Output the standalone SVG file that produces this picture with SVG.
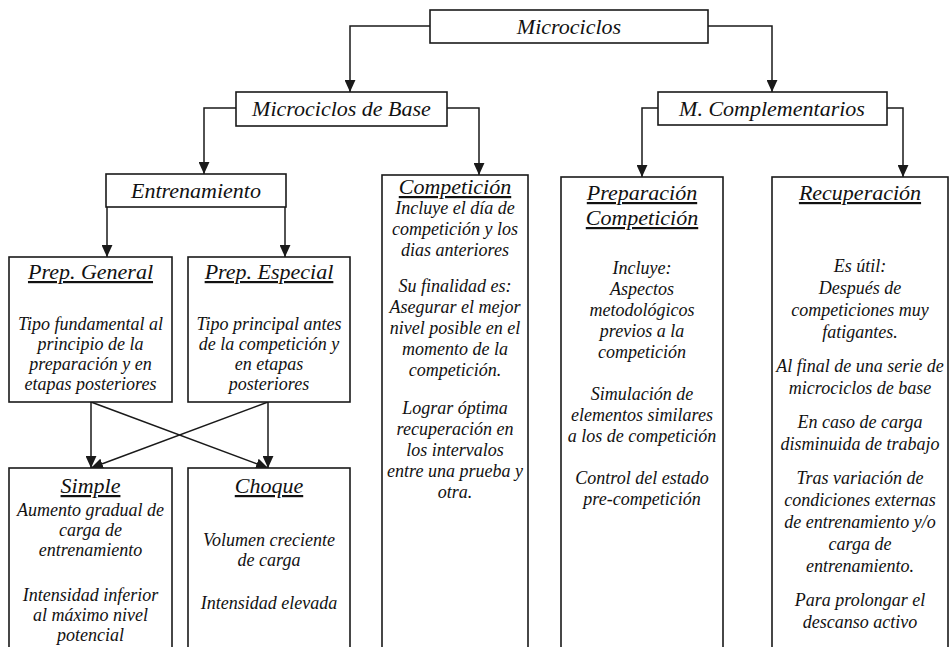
<svg xmlns="http://www.w3.org/2000/svg" width="952" height="647" viewBox="0 0 952 647">
<defs>
<marker id="arr" markerUnits="userSpaceOnUse" markerWidth="12" markerHeight="11" refX="11" refY="5" orient="auto" viewBox="0 0 11 10"><path d="M0,0 L11,5 L0,10 z" fill="#1a1a1a"/></marker>
</defs>
<style>
.box{fill:#fff;stroke:#1a1a1a;stroke-width:1.6}
text{font-family:"Liberation Serif","Times New Roman",serif;font-style:italic;fill:#111;text-anchor:middle}
.hd{font-size:22px}
.tt{font-size:22px;text-decoration:underline}
.bd{font-size:18px}
.cn{fill:none;stroke:#1a1a1a;stroke-width:1.5;marker-end:url(#arr)}
</style>
<rect x="0" y="0" width="952" height="647" fill="#fff"/>
<g id="connectors">
<polyline class="cn" points="430,26 350,26 350,92"/>
<polyline class="cn" points="708,26 772,26 772,92"/>
<polyline class="cn" points="236,108 204,108 204,174"/>
<polyline class="cn" points="447,108 479,108 479,175"/>
<polyline class="cn" points="658,108 642,108 642,177"/>
<polyline class="cn" points="887,108 903,108 903,177"/>
<polyline class="cn" points="107,207 107,257"/>
<polyline class="cn" points="285,207 285,257"/>
<polyline class="cn" points="91,402 91,468"/>
<polyline class="cn" points="268,402 268,468"/>
<polyline class="cn" points="91,402 268,468"/>
<polyline class="cn" points="268,402 91,468"/>
</g>
<g id="microciclos">
<rect class="box" x="430" y="10" width="278" height="33"/>
<text class="hd" x="569" y="34">Microciclos</text>
</g>
<g id="base">
<rect class="box" x="236" y="92" width="211" height="34"/>
<text class="hd" x="341.5" y="116">Microciclos de Base</text>
</g>
<g id="complementarios">
<rect class="box" x="658" y="92" width="229" height="33"/>
<text class="hd" x="772" y="116">M. Complementarios</text>
</g>
<g id="entrenamiento">
<rect class="box" x="106" y="174" width="180" height="33"/>
<text class="hd" x="196" y="198">Entrenamiento</text>
</g>
<g id="prep-general">
<rect class="box" x="9" y="257" width="163" height="145"/>
<text class="tt" x="90.5" y="279">Prep. General</text>
<text class="bd" x="90.5" y="330">Tipo fundamental al</text>
<text class="bd" x="90.5" y="350">principio de la</text>
<text class="bd" x="90.5" y="370">preparación y en</text>
<text class="bd" x="90.5" y="390">etapas posteriores</text>
</g>
<g id="prep-especial">
<rect class="box" x="188" y="257" width="162" height="145"/>
<text class="tt" x="269" y="279">Prep. Especial</text>
<text class="bd" x="269" y="330">Tipo principal antes</text>
<text class="bd" x="269" y="350">de la competición y</text>
<text class="bd" x="269" y="370">en etapas</text>
<text class="bd" x="269" y="390">posteriores</text>
</g>
<g id="simple">
<rect class="box" x="9" y="468" width="163" height="200"/>
<text class="tt" x="90.5" y="493">Simple</text>
<text class="bd" x="90.5" y="516">Aumento gradual de</text>
<text class="bd" x="90.5" y="536">carga de</text>
<text class="bd" x="90.5" y="556">entrenamiento</text>
<text class="bd" x="90.5" y="601">Intensidad inferior</text>
<text class="bd" x="90.5" y="621">al máximo nivel</text>
<text class="bd" x="90.5" y="641">potencial</text>
</g>
<g id="choque">
<rect class="box" x="188" y="468" width="162" height="200"/>
<text class="tt" x="269" y="493">Choque</text>
<text class="bd" x="269" y="546">Volumen creciente</text>
<text class="bd" x="269" y="566">de carga</text>
<text class="bd" x="269" y="609">Intensidad elevada</text>
</g>
<g id="competicion">
<rect class="box" x="382" y="175" width="146" height="500"/>
<text class="tt" x="455" y="194">Competición</text>
<text class="bd" x="455" y="214">Incluye el día de</text>
<text class="bd" x="455" y="235">competición y los</text>
<text class="bd" x="455" y="256">dias anteriores</text>
<text class="bd" x="455" y="292">Su finalidad es:</text>
<text class="bd" x="455" y="313">Asegurar el mejor</text>
<text class="bd" x="455" y="334">nivel posible en el</text>
<text class="bd" x="455" y="355">momento de la</text>
<text class="bd" x="455" y="376">competición.</text>
<text class="bd" x="455" y="414">Lograr óptima</text>
<text class="bd" x="455" y="435">recuperación en</text>
<text class="bd" x="455" y="456">los intervalos</text>
<text class="bd" x="455" y="477">entre una prueba y</text>
<text class="bd" x="455" y="498">otra.</text>
</g>
<g id="preparacion">
<rect class="box" x="561" y="177" width="162" height="500"/>
<text class="tt" x="642" y="200">Preparación</text>
<text class="tt" x="642" y="225">Competición</text>
<text class="bd" x="642" y="274">Incluye:</text>
<text class="bd" x="642" y="295">Aspectos</text>
<text class="bd" x="642" y="316">metodológicos</text>
<text class="bd" x="642" y="337">previos a la</text>
<text class="bd" x="642" y="358">competición</text>
<text class="bd" x="642" y="400">Simulación de</text>
<text class="bd" x="642" y="421">elementos similares</text>
<text class="bd" x="642" y="442">a los de competición</text>
<text class="bd" x="642" y="484">Control del estado</text>
<text class="bd" x="642" y="505">pre-competición</text>
</g>
<g id="recuperacion">
<rect class="box" x="772" y="177" width="176" height="500"/>
<text class="tt" x="860" y="200">Recuperación</text>
<text class="bd" x="860" y="272">Es útil:</text>
<text class="bd" x="860" y="294">Después de</text>
<text class="bd" x="860" y="316">competiciones muy</text>
<text class="bd" x="860" y="338">fatigantes.</text>
<text class="bd" x="860" y="372">Al final de una serie de</text>
<text class="bd" x="860" y="394">microciclos de base</text>
<text class="bd" x="860" y="428">En caso de carga</text>
<text class="bd" x="860" y="450">disminuida de trabajo</text>
<text class="bd" x="860" y="484">Tras variación de</text>
<text class="bd" x="860" y="506">condiciones externas</text>
<text class="bd" x="860" y="528">de entrenamiento y/o</text>
<text class="bd" x="860" y="550">carga de</text>
<text class="bd" x="860" y="572">entrenamiento.</text>
<text class="bd" x="860" y="606">Para prolongar el</text>
<text class="bd" x="860" y="628">descanso activo</text>
</g>
</svg>
